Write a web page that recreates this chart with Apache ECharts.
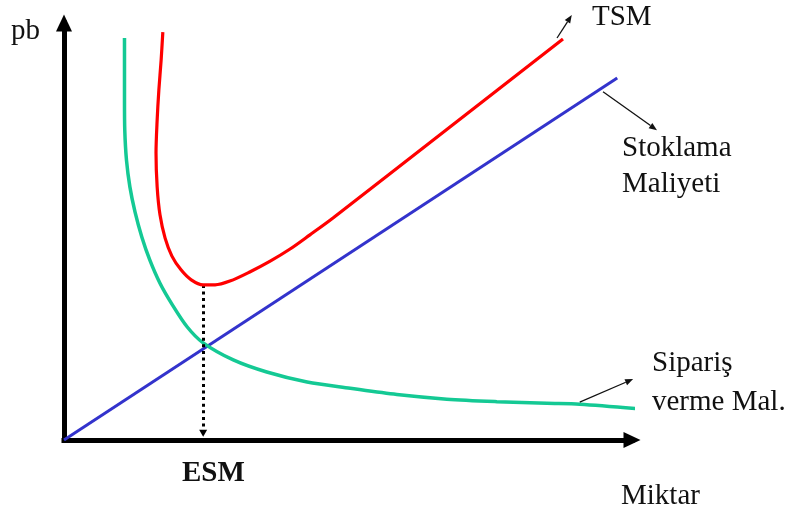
<!DOCTYPE html>
<html><head><meta charset="utf-8">
<script src="https://cdn.jsdelivr.net/npm/echarts@6/dist/echarts.min.js"></script>
<style>html,body{margin:0;padding:0;background:#fff}#c{width:793px;height:518px}</style>
</head><body><div id="c"></div>
<script>
// Stoklama Maliyeti (holding cost) - straight line
const holdingX = [0, 97.4];
const holdingY = [0, 86.8];
// Sipariş verme maliyeti (ordering cost)
const orderX = [10.65, 10.65, 10.65, 10.7, 11.0, 11.6, 12.5, 13.7, 15.1, 16.9, 19.0, 21.7, 24.5, 29.8, 35.7, 42.8, 50.4, 58.6, 67.4, 76.2, 85.0, 90.8, 101.8];
const orderY = [96.4, 88.7, 81.5, 74.3, 67.1, 60.7, 54.7, 48.7, 43.2, 37.6, 32.6, 27.1, 23.3, 19.2, 16.3, 13.9, 12.4, 10.9, 9.8, 9.2, 8.8, 8.6, 7.4];
// TSM (total cost)
const totalX = [17.4, 17.1, 16.7, 16.4, 16.2, 16.4, 16.9, 17.8, 19.0, 20.6, 22.4, 24.5, 26.6, 29.2, 32.7, 36.3, 39.8, 43.3, 47.36, 67.61, 87.85];
const totalY = [97.8, 91.1, 83.9, 76.7, 68.8, 60.7, 54.0, 48.4, 44.1, 40.8, 38.4, 37.2, 37.2, 38.1, 40.3, 42.9, 45.8, 49.2, 53.24, 74.70, 96.16];
// texts
const yName = 'pb';
const xName = 'Miktar';
const esmName = 'ESM';
const tsmName = 'TSM';
const holdingName = ['Stoklama', 'Maliyeti'];
const orderName = ['Sipariş', 'verme Mal.'];
// annotation pointer anchors (data units): [fromX, fromY, toX, toY]
const tsmPointer = [86.8, 96.4, 89.4, 101.9];
const holdingPointer = [94.9, 83.5, 104.4, 74.3];
const orderPointer = [90.8, 9.1, 100.2, 14.6];
// ESM drop arrow ends just above the quantity axis
const esmArrowEndY = 1.6;

const zip = (a, b) => a.map((v, i) => [v, b[i]]);
let minIdx = 0;
totalY.forEach((v, i) => { if (v < totalY[minIdx]) minIdx = i; });
const esmX = totalX[minIdx], esmY = totalY[minIdx];

const chart = echarts.init(document.getElementById('c'), null, {renderer: 'canvas'});
const axisCommon = {
  type: 'value', min: 0, max: 100,
  axisLine: {show: true, onZero: false, symbol: ['none', 'triangle'], symbolSize: [16, 17],
    lineStyle: {color: '#000', width: 5, cap: 'square'}},
  axisTick: {show: false}, axisLabel: {show: false}, splitLine: {show: false}
};
const option = {
  animation: false,
  backgroundColor: '#fff',
  grid: {left: 64, top: 23, right: 161, bottom: 78, containLabel: false, outerBoundsMode: 'none'},
  xAxis: Object.assign({}, axisCommon),
  yAxis: Object.assign({}, axisCommon),
  series: [
    {type: 'line', name: 'Stoklama Maliyeti', data: zip(holdingX, holdingY), showSymbol: false,
     lineStyle: {color: '#3333cc', width: 3}, itemStyle: {color: '#3333cc'}, silent: true, z: 3},
    {type: 'line', name: 'Sipariş verme Mal.', data: zip(orderX, orderY), showSymbol: false, smooth: 0.3, clip: false,
     lineStyle: {color: '#14c994', width: 3.5}, itemStyle: {color: '#14c994'}, silent: true, z: 4},
    {type: 'line', name: 'TSM', data: zip(totalX, totalY), showSymbol: false, smooth: 0.3, clip: false,
     lineStyle: {color: '#ff0000', width: 3.2}, itemStyle: {color: '#ff0000'}, silent: true, z: 5,
     markLine: {silent: true, symbol: ['none', 'triangle'], symbolSize: [8, 7], label: {show: false},
       lineStyle: {color: '#000', width: 3, type: [3, 3.6]}, emphasis: {disabled: true},
       data: [[{coord: [esmX, esmY]}, {coord: [esmX, esmArrowEndY]}]]}}
  ]
};
chart.setOption(option);

const toPx = (x, y) => chart.convertToPixel({gridIndex: 0}, [x, y]);
function pointer(p) {
  const a = toPx(p[0], p[1]), b = toPx(p[2], p[3]);
  const dx = b[0] - a[0], dy = b[1] - a[1], L = Math.hypot(dx, dy);
  const ux = dx / L, uy = dy / L, hl = 8, hw = 3.2;
  const bx = b[0] - ux * hl, by = b[1] - uy * hl;
  return [
    {type: 'line', silent: true, shape: {x1: a[0], y1: a[1], x2: bx, y2: by}, style: {stroke: '#111', lineWidth: 1.3}, z: 10},
    {type: 'polygon', silent: true, shape: {points: [[b[0], b[1]], [bx - uy * hw, by + ux * hw], [bx + uy * hw, by - ux * hw]]}, style: {fill: '#111'}, z: 10}
  ];
}
const serif = '"Liberation Serif", "Times New Roman", serif';
function txt(text, x, y, bold) {
  return {type: 'text', silent: true, z: 10, style: {text: text, x: x, y: y, fill: '#111',
    font: (bold ? 'bold ' : '') + '29px ' + serif, textAlign: 'left', textVerticalAlign: 'middle'}};
}
const graphics = [].concat(
  pointer(tsmPointer), pointer(holdingPointer), pointer(orderPointer),
  [txt(yName, 11, 31), txt(tsmName, 592, 17),
   txt(holdingName[0], 622, 148), txt(holdingName[1], 622, 184),
   txt(orderName[0], 652, 363), txt(orderName[1], 652, 402),
   txt(xName, 621, 496), txt(esmName, 182, 474, true)]
);
chart.setOption({graphic: graphics});
</script>
</body></html>
